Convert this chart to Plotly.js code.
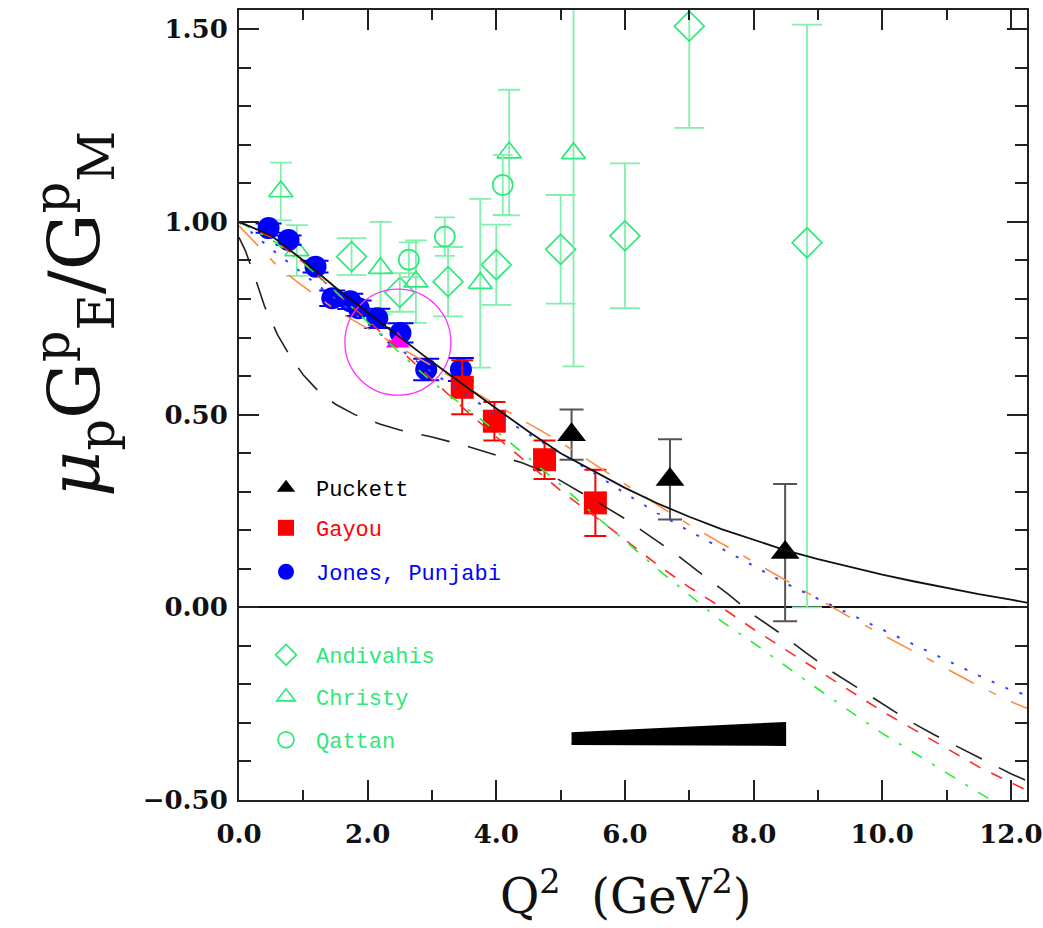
<!DOCTYPE html>
<html>
<head>
<meta charset="utf-8">
<script src="https://cdn.plot.ly/plotly-3.0.1.min.js"></script>
<style>html,body{margin:0;padding:0;background:#fff;}#chart{width:1043px;height:928px;}</style>
</head>
<body>
<div id="chart"></div>
<script>
// ---------------- data ----------------
const puckett_q = [5.17, 6.70, 8.49];
const puckett_r = [0.448, 0.332, 0.142];
const puckett_err = [0.065, 0.104, 0.178];

const gayou_q = [3.47, 3.97, 4.75, 5.54];
const gayou_r = [0.571, 0.483, 0.383, 0.271];
const gayou_err = [0.070, 0.050, 0.050, 0.086];

const jones_q = [0.46, 0.77, 1.19, 1.45, 1.73, 1.86, 2.15, 2.51, 2.91, 3.45];
const jones_r = [0.984, 0.953, 0.884, 0.802, 0.794, 0.776, 0.750, 0.712, 0.617, 0.617];
const jones_err = [0.012, 0.012, 0.015, 0.020, 0.020, 0.020, 0.025, 0.025, 0.028, 0.030];

const magenta_q = [2.47];
const magenta_r = [0.688];

const andivahis_q = [1.75, 2.50, 3.25, 4.00, 5.00, 6.00, 7.00, 8.83];
const andivahis_r = [0.910, 0.817, 0.845, 0.889, 0.929, 0.964, 1.508, 0.946];
const andivahis_errp = [0.048, 0.050, 0.090, 0.104, 0.141, 0.188, 0.264, 0.566];
const andivahis_errm = [0.048, 0.050, 0.090, 0.104, 0.141, 0.188, 0.264, 0.946];

const christy_q = [0.65, 0.90, 2.20, 2.75, 3.75, 4.20, 5.20];
const christy_r = [1.079, 0.926, 0.880, 0.845, 0.841, 1.180, 1.178];
const christy_err = [0.075, 0.066, 0.120, 0.107, 0.219, 0.163, 0.553];

const qattan_q = [2.64, 3.20, 4.10];
const qattan_r = [0.902, 0.962, 1.096];
const qattan_err = [0.045, 0.050, 0.078];

// theory curves
const solid_q = [0, 0.5, 1, 1.5, 2, 2.5, 3, 3.5, 4, 4.5, 5, 5.5, 6, 6.5, 7, 7.5, 8, 8.5, 9, 9.5, 10, 10.5, 11, 11.5, 12, 12.25];
const solid_r = [1.0, 0.965, 0.90, 0.83, 0.765, 0.70, 0.637, 0.576, 0.515, 0.456, 0.400, 0.355, 0.310, 0.270, 0.235, 0.203, 0.175, 0.148, 0.125, 0.104, 0.085, 0.067, 0.050, 0.034, 0.020, 0.012];

const ldash_q = [0, 0.1, 0.25, 0.4, 0.6, 0.8, 1.0, 1.25, 1.5, 1.8, 2.2, 2.5, 3.0, 3.5, 4.0, 4.4, 4.8, 5.2, 5.6, 6.0, 6.4, 6.8, 7.2, 7.6, 8.0, 8.4, 8.8, 9.2, 9.6, 10.0, 10.4, 10.8, 11.2, 11.6, 12.0, 12.25];
const ldash_r = [0.96, 0.925, 0.855, 0.78, 0.707, 0.65, 0.603, 0.558, 0.527, 0.50, 0.475, 0.46, 0.442, 0.42, 0.395, 0.375, 0.348, 0.31, 0.27, 0.23, 0.183, 0.137, 0.085, 0.035, -0.02, -0.066, -0.116, -0.165, -0.207, -0.25, -0.293, -0.33, -0.365, -0.398, -0.432, -0.45];

const orange_q = [0, 0.2, 0.4, 0.6, 0.9, 1.2, 1.5, 1.9, 2.2, 2.5, 2.9, 3.3, 3.6, 4.0, 4.4, 4.7, 5.0, 5.4, 5.8, 6.2, 6.6, 7.0, 7.5, 8.0, 8.5, 9.0, 9.5, 10.0, 10.5, 11.0, 11.5, 12.0, 12.25];
const orange_r = [0.99, 0.955, 0.92, 0.885, 0.845, 0.808, 0.772, 0.733, 0.705, 0.674, 0.636, 0.598, 0.565, 0.525, 0.486, 0.458, 0.428, 0.385, 0.341, 0.298, 0.256, 0.214, 0.166, 0.118, 0.068, 0.021, -0.026, -0.071, -0.115, -0.16, -0.204, -0.245, -0.262];

const blue_q = [0, 0.3, 0.5, 1.0, 1.5, 2.0, 2.5, 3.0, 3.5, 4.0, 4.5, 5.0, 5.5, 6.0, 6.5, 7.0, 7.5, 8.0, 8.5, 9.0, 9.5, 10.0, 10.5, 11.0, 11.5, 12.0, 12.25];
const blue_r = [1.0, 0.958, 0.93, 0.865, 0.80, 0.735, 0.67, 0.61, 0.555, 0.50, 0.45, 0.40, 0.35, 0.296, 0.245, 0.198, 0.152, 0.106, 0.062, 0.022, -0.018, -0.058, -0.097, -0.136, -0.177, -0.215, -0.228];

const red_q = [0, 0.5, 1.0, 1.5, 2.0, 2.5, 3.0, 3.5, 4.0, 4.5, 5.0, 5.5, 6.0, 6.5, 7.0, 7.5, 8.0, 8.5, 9.0, 9.5, 10.0, 10.5, 11.0, 11.5, 12.0, 12.25];
const red_r = [1.0, 0.96, 0.895, 0.818, 0.745, 0.668, 0.59, 0.515, 0.442, 0.372, 0.303, 0.24, 0.176, 0.111, 0.052, 0.0, -0.057, -0.11, -0.164, -0.217, -0.27, -0.318, -0.366, -0.414, -0.455, -0.475];

const green_q = [0, 0.5, 1.0, 1.5, 2.0, 2.5, 3.0, 3.5, 4.0, 4.5, 5.0, 5.5, 6.0, 6.5, 7.0, 7.5, 8.0, 8.5, 9.0, 9.5, 10.0, 10.5, 11.0, 11.5, 12.0, 12.25];
const green_r = [1.0, 0.955, 0.893, 0.82, 0.74, 0.66, 0.585, 0.522, 0.457, 0.388, 0.318, 0.243, 0.173, 0.1, 0.033, -0.036, -0.093, -0.153, -0.212, -0.27, -0.327, -0.378, -0.43, -0.481, -0.53, -0.555];

// systematic error band
const band_q = [5.17, 6.70, 8.49];
const band_hi = [-0.327, -0.315, -0.300];
const band_lo = [-0.355, -0.356, -0.357];

// ---------------- styling ----------------
const GREEN = '#2ee87c';
const GREEN_ERR = '#80f0aa';
const serif = 'DejaVu Serif, serif';
const mono = 'Liberation Mono, DejaVu Sans Mono, monospace';

const traces = [];

traces.push({
  x: andivahis_q, y: andivahis_r, type: 'scatter', mode: 'markers', name: 'Andivahis',
  legend: 'legend4',
  marker: {symbol: 'diamond-open', size: 23, color: GREEN, line: {width: 1.7, color: GREEN}},
  error_y: {type: 'data', symmetric: false, array: andivahis_errp, arrayminus: andivahis_errm, color: GREEN_ERR, thickness: 1.8, width: 15}
});
traces.push({
  x: christy_q, y: christy_r, type: 'scatter', mode: 'markers', name: 'Christy',
  legend: 'legend5',
  marker: {symbol: 'triangle-up-open', size: 21, color: GREEN, line: {width: 1.7, color: GREEN}},
  error_y: {type: 'data', array: christy_err, color: GREEN_ERR, thickness: 1.8, width: 11}
});
traces.push({
  x: qattan_q, y: qattan_r, type: 'scatter', mode: 'markers', name: 'Qattan',
  legend: 'legend6',
  marker: {symbol: 'circle-open', size: 20, color: GREEN, line: {width: 1.7, color: GREEN}},
  error_y: {type: 'data', array: qattan_err, color: GREEN_ERR, thickness: 1.8, width: 10}
});

traces.push({
  x: jones_q, y: jones_r, type: 'scatter', mode: 'markers', name: 'Jones, Punjabi',
  legend: 'legend3',
  marker: {symbol: 'circle', size: 22, color: '#0000ff'},
  error_y: {type: 'data', array: jones_err, color: '#0000ff', thickness: 2, width: 13}
});
traces.push({
  x: magenta_q, y: magenta_r, type: 'scatter', mode: 'markers', showlegend: false,
  marker: {symbol: 'triangle-up', size: 21, color: '#ff00ff'}
});
traces.push({
  x: magenta_q, y: magenta_r, type: 'scatter', mode: 'markers', showlegend: false,
  marker: {symbol: 'circle-open', size: 106, color: '#ff33ff', line: {width: 1.3, color: '#ff33ff'}}
});
traces.push({
  x: gayou_q, y: gayou_r, type: 'scatter', mode: 'markers', name: 'Gayou',
  legend: 'legend2',
  marker: {symbol: 'square', size: 23, color: '#ff0000'},
  error_y: {type: 'data', array: gayou_err, color: '#ff0000', thickness: 2, width: 11}
});
traces.push({
  x: puckett_q, y: puckett_r, type: 'scatter', mode: 'markers', name: 'Puckett',
  legend: 'legend',
  marker: {symbol: 'triangle-up', size: 25, color: '#000000'},
  error_y: {type: 'data', array: puckett_err, color: '#555555', thickness: 2, width: 12}
});

function curve(q, r, color, dash, width) {
  return {x: q, y: r, type: 'scatter', mode: 'lines', showlegend: false,
          line: {color: color, dash: dash, width: width}};
}
traces.push(curve(ldash_q, ldash_r, '#222222', '29px,19px', 1.6));
traces.push(curve(orange_q, orange_r, '#ff8a3d', '28px,17px,8px,17px', 1.6));
traces.push(curve(blue_q, blue_r, '#3344ff', '3px,12px', 2));
traces.push(curve(red_q, red_r, '#ff2a2a', '12px,12px', 1.6));
traces.push(curve(green_q, green_r, '#22ee33', '12px,12px,3px,12px', 1.6));
traces.push(curve(solid_q, solid_r, '#111111', 'solid', 1.8));

traces.push({
  x: band_q.concat(band_q.slice().reverse()),
  y: band_hi.concat(band_lo.slice().reverse()),
  type: 'scatter', mode: 'lines', fill: 'toself', fillcolor: '#000000',
  line: {color: '#000000', width: 2}, showlegend: false
});

// ---------------- layout ----------------
const W = 1043, H = 928;
const L = 239, R = 16, T = 10, B = 128;
const pw = W - L - R, ph = H - T - B;
const px = v => (v - L) / pw;
const py = v => (H - B - v) / ph;

function leg(ycenter, color) {
  return {
    x: px(256), y: py(ycenter), xanchor: 'left', yanchor: 'middle',
    bgcolor: 'rgba(0,0,0,0)', borderwidth: 0,
    font: {family: mono, size: 22, color: color},
    itemsizing: 'trace', itemwidth: 50
  };
}

const axisCommon = {
  showgrid: false, showline: true, linecolor: '#222', linewidth: 2,
  mirror: 'allticks', ticks: 'inside', tickcolor: '#222', tickwidth: 2,
  tickfont: {family: serif, size: 26, weight: 'bold', color: '#111'}
};

const layout = {
  width: W, height: H,
  margin: {l: L, r: R, t: T, b: B, pad: 0},
  paper_bgcolor: '#fff', plot_bgcolor: '#fff',
  xaxis: Object.assign({}, axisCommon, {
    range: [0, 12.25], tick0: 0, dtick: 2, tickformat: '.1f', ticklen: 20,
    zeroline: false, ticklabelstandoff: 10,
    minor: {dtick: 1, ticks: 'inside', ticklen: 10, tickwidth: 2, tickcolor: '#222', showgrid: false}
  }),
  yaxis: Object.assign({}, axisCommon, {
    range: [-0.5, 1.55], tick0: 0, dtick: 0.5, tickformat: '.2f', ticklen: 20,
    zeroline: true, zerolinecolor: '#111', zerolinewidth: 2, ticklabelstandoff: 4,
    minor: {dtick: 0.1, ticks: 'inside', ticklen: 12, tickwidth: 2, tickcolor: '#222', showgrid: false}
  }),
  legend: leg(488, '#000000'),
  legend2: leg(528, '#ff0000'),
  legend3: leg(572, '#0000ff'),
  legend4: leg(655, GREEN),
  legend5: leg(697, GREEN),
  legend6: leg(740, GREEN),
  annotations: [
    {text: '<i>μ</i><sub>p</sub>G<sup>p</sup><sub>E</sub>/G<sup>p</sup><sub>M</sub>',
     xref: 'paper', yref: 'paper', x: px(74), y: py(314), xanchor: 'center', yanchor: 'middle',
     textangle: -90, showarrow: false, font: {family: 'DejaVu Serif, serif', size: 71, color: '#111'}},
    {text: 'Q<sup>2</sup>  (GeV<sup>2</sup>)',
     xref: 'paper', yref: 'paper', x: px(626), y: py(893), xanchor: 'center', yanchor: 'middle',
     showarrow: false, font: {family: 'DejaVu Serif, serif', size: 48, color: '#111'}}
  ]
};

Plotly.newPlot('chart', traces, layout, {displayModeBar: false, staticPlot: true});
</script>
</body>
</html>
